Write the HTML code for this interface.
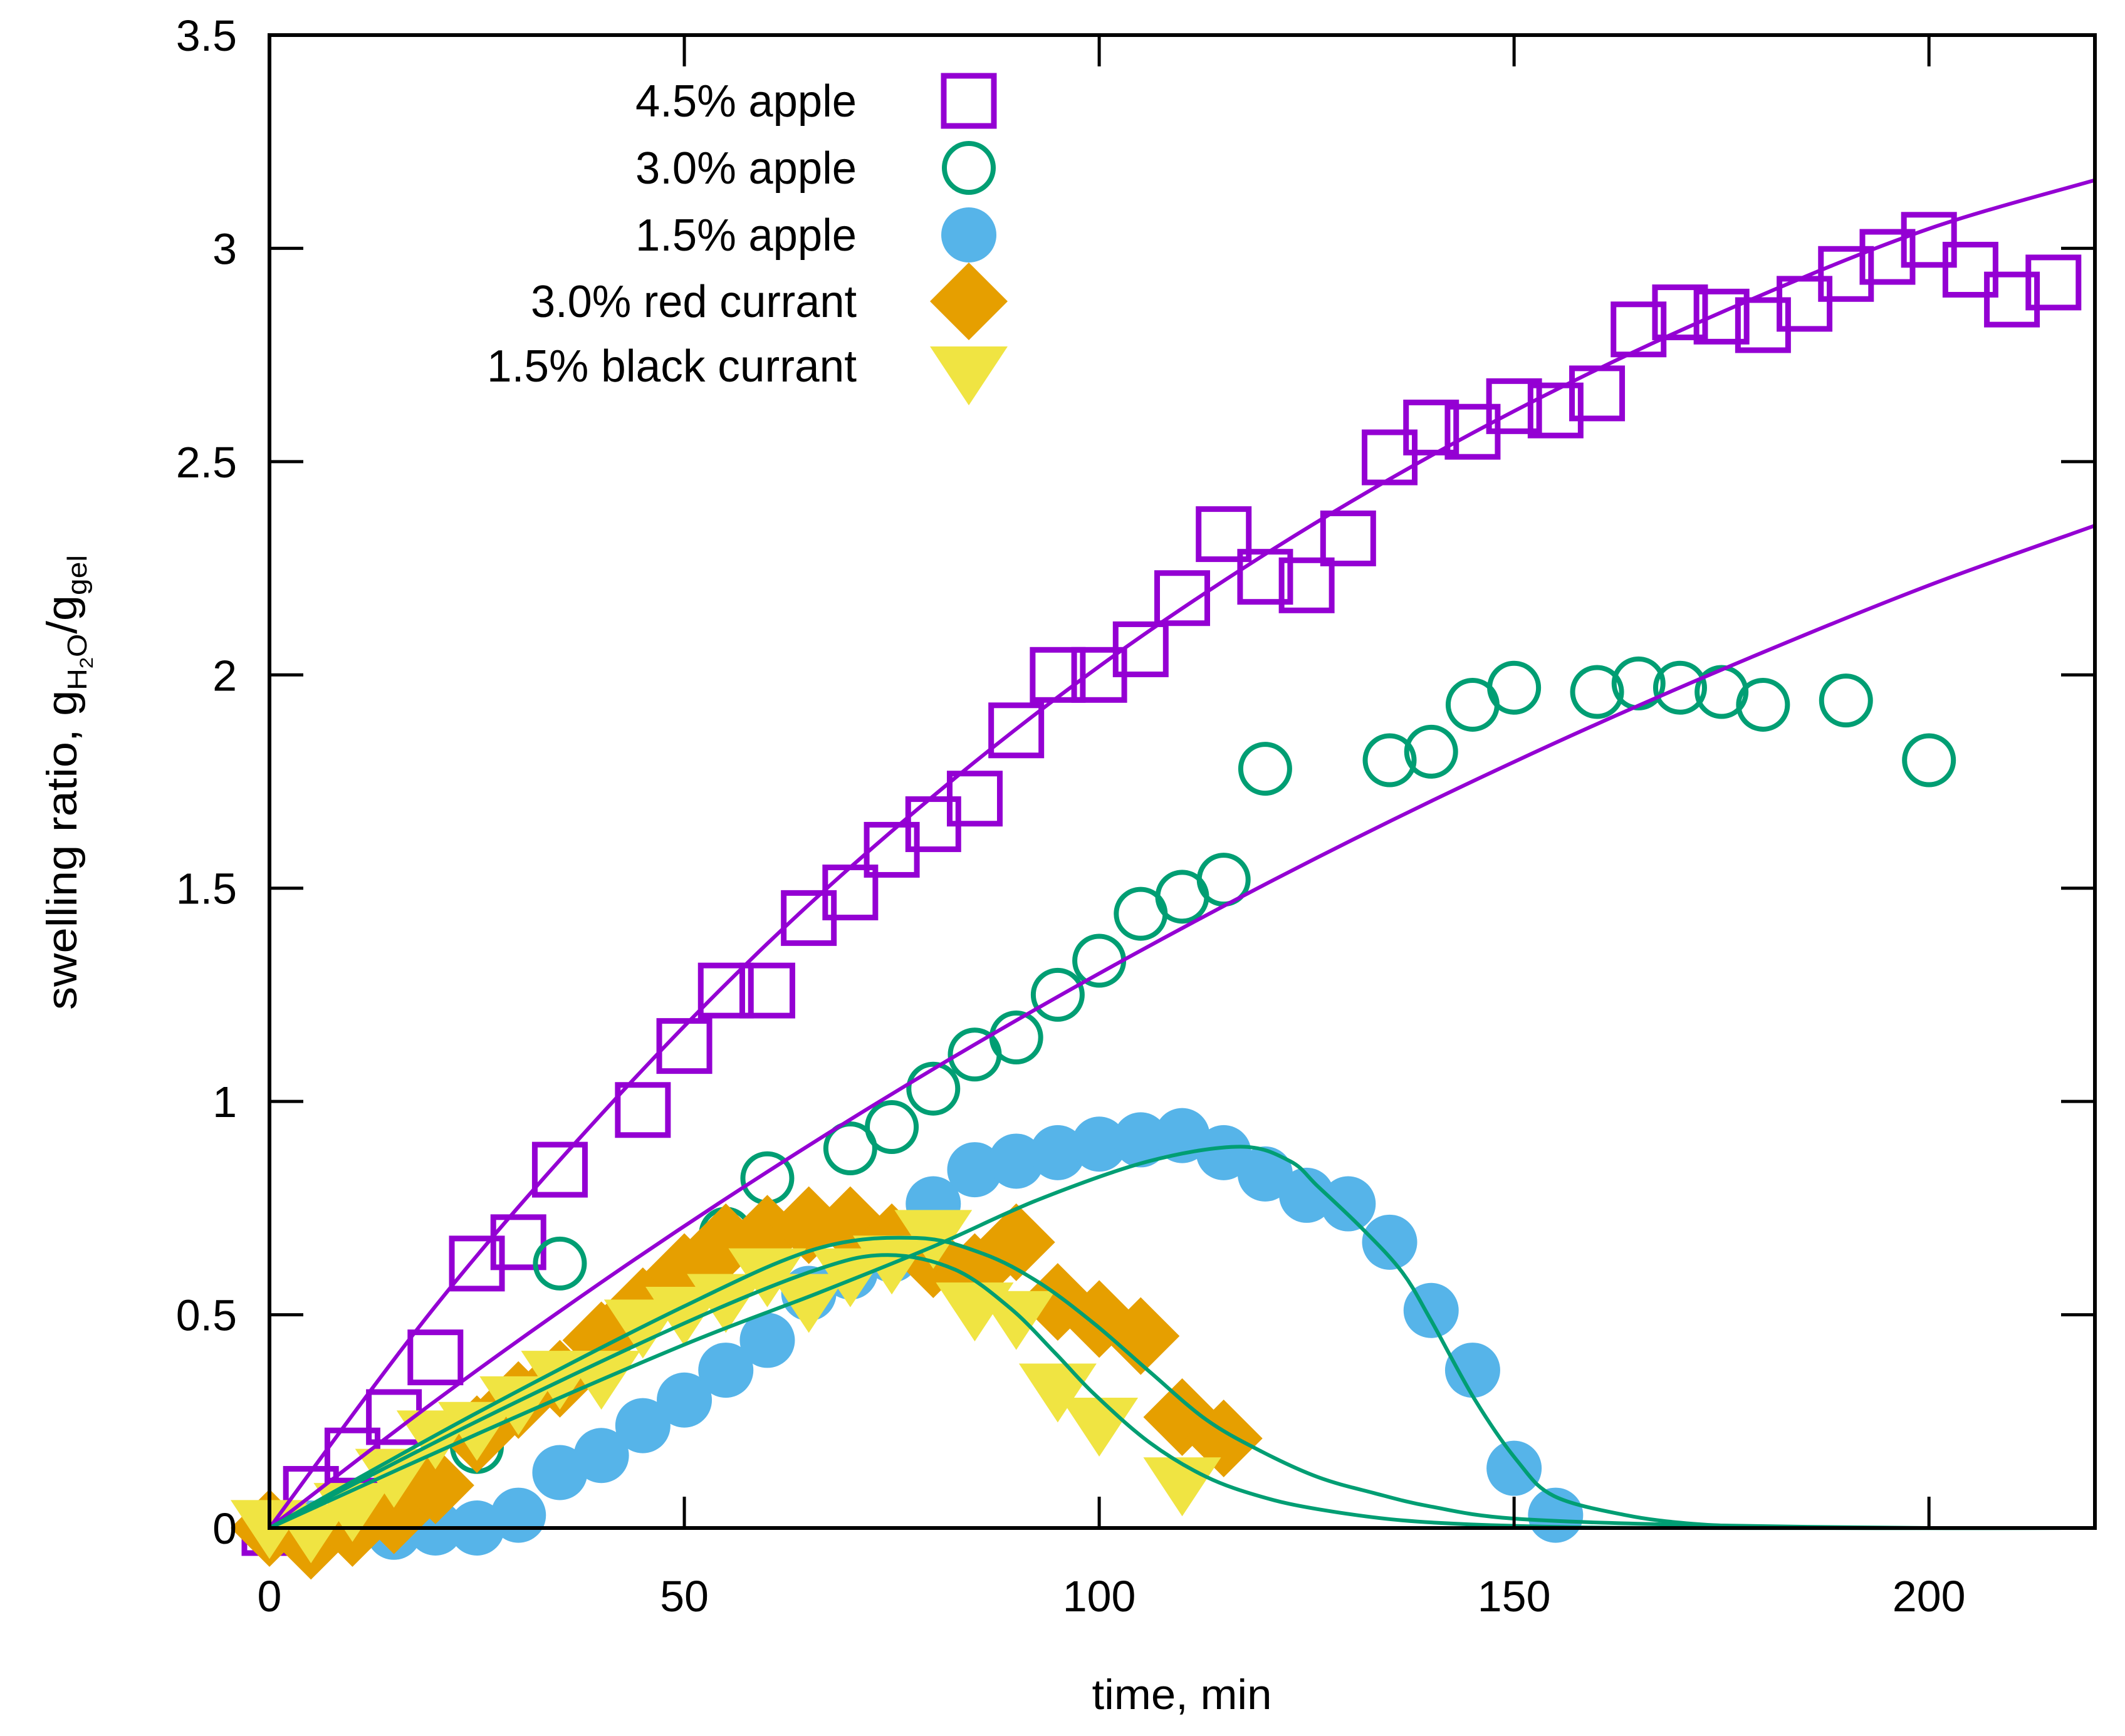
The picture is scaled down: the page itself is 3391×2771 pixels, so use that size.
<!DOCTYPE html>
<html><head><meta charset="utf-8"><style>
html,body{margin:0;padding:0;background:#fff;}
svg{display:block;font-family:"Liberation Sans",Arial,sans-serif;}
</style></head><body>
<svg id="chart" width="3391" height="2771" viewBox="0 0 3391 2771" xmlns="http://www.w3.org/2000/svg">
<rect x="0" y="0" width="3391" height="2771" fill="#fff"/>
<g id="marks"></g>
<g id="fits"></g>
<rect x="430" y="56" width="2913" height="2383" fill="none" stroke="#000" stroke-width="6"/>
<g id="axes"></g>
<text x="1886" y="2728" font-size="68" text-anchor="middle" textLength="287" lengthAdjust="spacingAndGlyphs">time, min</text>
<text transform="translate(122,1249) rotate(-90)" font-size="68" text-anchor="middle" textLength="726" lengthAdjust="spacingAndGlyphs">swelling ratio, g<tspan font-size="44" dy="16">H</tspan><tspan font-size="30" dy="10">2</tspan><tspan font-size="44" dy="-10">O</tspan><tspan dy="-16">/g</tspan><tspan font-size="44" dy="16">gel</tspan></text>
<g id="legend"></g>
</svg>
<script>
const xTicks=[0,50,100,150,200];
const yTicks=[0,0.5,1,1.5,2,2.5,3,3.5];
const yTickLabels=["0","0.5","1","1.5","2","2.5","3","3.5"];
const seriesNames=["4.5% apple","3.0% apple","1.5% apple","3.0% red currant","1.5% black currant"];

const sqX=[0,5,10,15,20,25,30,35,45,50,55,60,65,70,75,80,85,90,95,100,105,110,115,120,125,130,135,140,145,150,155,160,165,170,175,180,185,190,195,200,205,210,215];
const sqY=[0,0.08,0.17,0.26,0.40,0.62,0.67,0.84,0.98,1.13,1.26,1.26,1.43,1.49,1.59,1.65,1.71,1.87,2.0,2.0,2.06,2.18,2.33,2.23,2.21,2.32,2.51,2.58,2.57,2.63,2.62,2.66,2.81,2.85,2.84,2.82,2.87,2.94,2.98,3.02,2.95,2.88,2.92];
const ocX=[0,25,35,55,60,70,75,80,85,90,95,100,105,110,115,120,135,140,145,150,160,165,170,175,180,190,200];
const ocY=[0,0.19,0.62,0.69,0.82,0.89,0.94,1.03,1.11,1.15,1.25,1.33,1.44,1.48,1.52,1.78,1.80,1.82,1.93,1.97,1.96,1.98,1.97,1.96,1.93,1.94,1.80];
const fcX=[0,5,10,15,20,25,30,35,40,45,50,55,60,65,70,75,80,85,90,95,100,105,110,115,120,125,130,135,140,145,150,155];
const fcY=[0,0,0,-0.01,0,0,0.03,0.13,0.17,0.24,0.30,0.37,0.44,0.55,0.60,0.64,0.76,0.84,0.86,0.88,0.90,0.91,0.92,0.88,0.83,0.78,0.76,0.67,0.51,0.37,0.14,0.03];
const dmX=[0,5,10,15,20,25,30,35,40,45,50,55,60,65,70,75,80,85,90,95,100,105,110,115];
const dmY=[0,-0.03,0,0.03,0.10,0.22,0.30,0.35,0.44,0.52,0.60,0.67,0.69,0.71,0.71,0.67,0.63,0.60,0.67,0.53,0.49,0.45,0.26,0.21];
const trX=[0,5,10,15,20,25,30,35,40,45,50,55,60,65,70,75,80,85,90,95,100,110];
const trY=[0.02,0.01,0.06,0.14,0.23,0.25,0.31,0.37,0.37,0.49,0.52,0.55,0.61,0.55,0.61,0.64,0.70,0.53,0.51,0.34,0.26,0.12];

const fitHiX=[0,20,40,60,80,100,120,140,160,180,200,220];
const fitHiY=[0,0.52,0.97,1.37,1.716,2.02,2.283,2.514,2.716,2.892,3.046,3.16];
const fitLoX=[0,20,40,60,80,100,120,140,160,180,200,220];
const fitLoY=[0,0.298,0.576,0.835,1.076,1.30,1.509,1.704,1.885,2.053,2.21,2.35];
const fitAX=[0,25,50,66,80,92.7,106,117,123,126.4,131.8,136.5,139.9,145.3,150.4,154.8,163.5,171.5,180,195,220];
const fitAY=[0,0.22,0.43,0.55,0.66,0.77,0.86,0.894,0.86,0.80,0.70,0.60,0.49,0.30,0.157,0.075,0.03,0.01,0.003,0,0];
const fitBX=[0,25,50,66,78,86,92.7,99.4,106.1,112.9,119.6,126.4,133.1,139.8,150,171.5,200,220];
const fitBY=[0,0.27,0.52,0.655,0.68,0.643,0.576,0.479,0.366,0.254,0.179,0.119,0.082,0.051,0.022,0.007,0,0];
const fitCX=[0,25,50,66,74.5,82.6,89.3,94.7,99.4,106.1,112.9,119.6,126.4,136.5,150,170,220];
const fitCY=[0,0.25,0.48,0.606,0.64,0.606,0.515,0.41,0.314,0.20,0.12,0.073,0.044,0.018,0.005,0,0];

const X0=430,X1=3343,Y0=2439,Y1=56,XMAX=220,YMAX=3.5;
function sx(v){return X0+(X1-X0)*v/XMAX;}
function sy(v){return Y0-(Y0-Y1)*v/YMAX;}
const NS="http://www.w3.org/2000/svg";
function mk(tag,attrs,parent){const e=document.createElementNS(NS,tag);for(const k in attrs)e.setAttribute(k,attrs[k]);parent.appendChild(e);return e;}
const C={purple:"#9400d3",green:"#009e73",blue:"#56b4e9",orange:"#e69f00",yellow:"#f0e442"};

function square(g,cx,cy){return mk('rect',{x:cx-40,y:cy-40,width:80,height:80,fill:'none',stroke:C.purple,'stroke-width':9},g);}
function ocircle(g,cx,cy){return mk('ellipse',{cx:cx,cy:cy,rx:39,ry:39,fill:'none',stroke:C.green,'stroke-width':8},g);}
function fcircle(g,cx,cy){return mk('ellipse',{cx:cx,cy:cy,rx:44,ry:44,fill:C.blue},g);}
function diamond(g,cx,cy){return mk('polygon',{points:`${cx},${cy-62} ${cx+62},${cy} ${cx},${cy+62} ${cx-62},${cy}`,fill:C.orange},g);}
function tri(g,cx,cy){return mk('polygon',{points:`${cx-62},${cy-31} ${cx+62},${cy-31} ${cx},${cy+63}`,fill:C.yellow},g);}

const marks=document.getElementById('marks');
function series(xs,ys,fn,name){const g=mk('g',{},marks);


xs.forEach((x,i)=>{const e=fn(g,sx(x),sy(ys[i]));

});}
series(sqX,sqY,square,'apple-4-5-series');
series(ocX,ocY,ocircle,'apple-3-0-series');
series(fcX,fcY,fcircle,'apple-1-5-series');
series(dmX,dmY,diamond,'red-currant-series');
series(trX,trY,tri,'black-currant-series');

function smoothPath(xs,ys){const p=xs.map((x,i)=>[sx(x),sy(ys[i])]);let d=`M${p[0][0]},${p[0][1]}`;
for(let i=0;i<p.length-1;i++){const p0=p[Math.max(0,i-1)],p1=p[i],p2=p[i+1],p3=p[Math.min(p.length-1,i+2)];
const c1=[p1[0]+(p2[0]-p0[0])/6,p1[1]+(p2[1]-p0[1])/6],c2=[p2[0]-(p3[0]-p1[0])/6,p2[1]-(p3[1]-p1[1])/6];
d+=` C${c1[0]},${c1[1]} ${c2[0]},${c2[1]} ${p2[0]},${p2[1]}`;}return d;}
const fits=document.getElementById('fits');
function fit(xs,ys,col,name){const e=mk('path',{d:smoothPath(xs,ys),fill:'none',stroke:col,'stroke-width':6},fits);

}
fit(fitHiX,fitHiY,C.purple,'fit-4-5-apple');
fit(fitLoX,fitLoY,C.purple,'fit-3-0-apple');
fit(fitAX,fitAY,C.green,'fit-1-5-apple');
fit(fitBX,fitBY,C.green,'fit-red-currant');
fit(fitCX,fitCY,C.green,'fit-black-currant');

const axes=document.getElementById('axes');
xTicks.forEach(v=>{const x=sx(v);
mk('line',{x1:x,y1:Y0,x2:x,y2:Y0-50,stroke:'#000','stroke-width':5},axes);
mk('line',{x1:x,y1:Y1,x2:x,y2:Y1+50,stroke:'#000','stroke-width':5},axes);
const t=mk('text',{x:x,y:2572,'font-size':70,'text-anchor':'middle'},axes);t.textContent=String(v);

});
yTicks.forEach((v,i)=>{const y=sy(v);
mk('line',{x1:X0,y1:y,x2:X0+54,y2:y,stroke:'#000','stroke-width':5},axes);
mk('line',{x1:X1,y1:y,x2:X1-54,y2:y,stroke:'#000','stroke-width':5},axes);
const t=mk('text',{x:378,y:y+25,'font-size':70,'text-anchor':'end'},axes);t.textContent=yTickLabels[i];

});

const legend=document.getElementById('legend');
const legRowY=[161,268,375,481,584];
const legTextW=[353,353,353,520,590];
const legFns=[square,ocircle,fcircle,diamond,tri];
seriesNames.forEach((n,i)=>{const g=mk('g',{},legend);


const t=mk('text',{x:1367,y:legRowY[i]+25,'font-size':72,'text-anchor':'end',textLength:legTextW[i],lengthAdjust:'spacingAndGlyphs'},g);t.textContent=n;
legFns[i](g,1546,legRowY[i]);});
</script>
</body></html>
